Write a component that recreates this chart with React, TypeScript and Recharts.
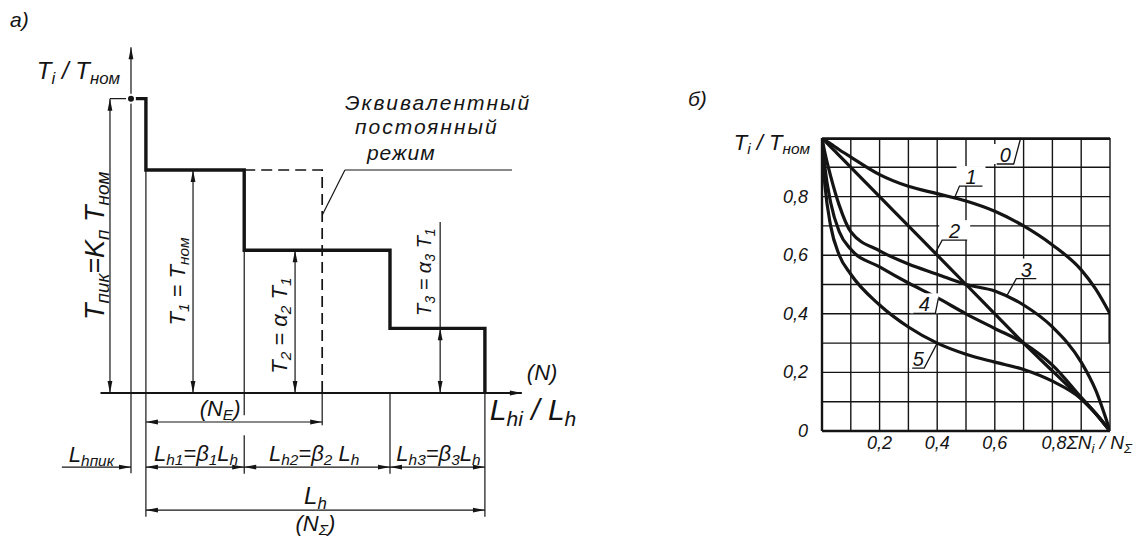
import React from "react";
import {
    LineChart,
    Line,
    XAxis,
    YAxis,
    CartesianGrid,
    ReferenceLine,
    ReferenceDot,
} from "recharts";

const INK = "#141414";
const FONT = "'Liberation Sans', Arial, sans-serif";

// ── Panel а: loading cycle ────────────────────────────────────────────────────
// durations as fractions of Lh (first one is the peak), loads as Ti / Tном
const stageLength = [0.044, 0.29, 0.43, 0.28];
const stageLoad = [1.32, 1.0, 0.64, 0.29];
const equivLength = 0.52; // NE / Lh, run at T1

// ── Panel б: load spectra, Ti/Tном against ΣNi/NΣ ─────────────────────────────
const shareX = [0, 0.01, 0.03, 0.06, 0.1, 0.2, 0.3, 0.4, 0.5, 0.6, 0.7, 0.8, 0.9, 0.95, 1];
const curve1 = [1, 0.993, 0.98, 0.96, 0.935, 0.875, 0.835, 0.81, 0.785, 0.75, 0.7, 0.635, 0.55, 0.485, 0.4];
const curve2 = [1, 0.99, 0.97, 0.94, 0.9, 0.8, 0.7, 0.6, 0.5, 0.4, 0.3, 0.205, 0.11, 0.06, 0];
const curve3 = [1, 0.95, 0.87, 0.77, 0.68, 0.615, 0.57, 0.535, 0.5, 0.478, 0.43, 0.355, 0.235, 0.14, 0];
const curve4 = [1, 0.9, 0.78, 0.68, 0.62, 0.56, 0.505, 0.455, 0.4, 0.35, 0.3, 0.225, 0.115, 0.06, 0];
const curve5 = [0.97, 0.84, 0.7, 0.6, 0.535, 0.43, 0.355, 0.3, 0.262, 0.235, 0.21, 0.17, 0.11, 0.06, 0];
const curve0Share = [0, 1];
const curve0 = [1, 1];
const curve1TailShare = [1, 1];
const curve1Tail = [0.4, 0.3];

const tagNames = ["0", "1", "2", "3", "4", "5"];
const tagShare = [0.69, 0.46, 0.393, 0.64, 0.404, 0.4];

const xTicks = [0.2, 0.4, 0.6, 0.8];
const yTicks = [0, 0.2, 0.4, 0.6, 0.8];
const gridLines = [0.1, 0.2, 0.3, 0.4, 0.5, 0.6, 0.7, 0.8, 0.9, 1];

type P = { x: number; y: number };
const toPoints = (xs: number[], ys: number[]): P[] => xs.map((x, i) => ({ x, y: ys[i] }));

const stageEdge = stageLength.reduce<number[]>((acc, d) => [...acc, acc[acc.length - 1] + d], [0]);
const stepLine: P[] = stageLoad
    .flatMap((y, i) => [
        { x: stageEdge[i], y },
        { x: stageEdge[i + 1], y },
    ])
    .concat({ x: stageEdge[stageEdge.length - 1], y: 0 });
const equivEnd = stageEdge[1] + equivLength;
const equivLine: P[] = [
    { x: stageEdge[2], y: stageLoad[1] },
    { x: equivEnd, y: stageLoad[1] },
    { x: equivEnd, y: 0 },
];

const curves = [curve0, curve1, curve2, curve3, curve4, curve5];
const curveShare = [curve0Share, shareX, shareX, shareX, shareX, shareX];

function valueAt(xs: number[], ys: number[], x: number) {
    for (let i = 1; i < xs.length; i++) {
        if (x <= xs[i]) {
            const t = (x - xs[i - 1]) / (xs[i] - xs[i - 1]);
            return ys[i - 1] + t * (ys[i] - ys[i - 1]);
        }
    }
    return ys[ys.length - 1];
}

// ── Drawing helpers ───────────────────────────────────────────────────────────
type Part = string | [string]; // [s] is set as a subscript

function rich(parts: Part[], size: number) {
    const drop = size * 0.2;
    let low = false;
    return parts.map((p, i) => {
        const sub = Array.isArray(p);
        const dy = sub === low ? 0 : sub ? drop : -drop;
        low = sub;
        return (
            <tspan key={i} dy={dy} fontSize={sub ? size * 0.7 : size}>
                {sub ? p[0] : p}
            </tspan>
        );
    });
}

type TextOpts = { size?: number; anchor?: "start" | "middle" | "end"; rotate?: boolean; spacing?: number };

function txt(x: number, y: number, parts: Part[], o: TextOpts = {}) {
    const { size = 20, anchor = "middle", rotate = false, spacing = 0 } = o;
    return (
        <text
            x={x}
            y={y}
            fill={INK}
            fontFamily={FONT}
            fontStyle="italic"
            fontSize={size}
            textAnchor={anchor}
            letterSpacing={spacing}
            transform={rotate ? `rotate(-90 ${x} ${y})` : undefined}
        >
            {rich(parts, size)}
        </text>
    );
}

// drafting arrowhead with its tip at (tx, ty)
function head(tx: number, ty: number, fx: number, fy: number) {
    const a = Math.atan2(ty - fy, tx - fx);
    const len = 12;
    const half = 2.4;
    const bx = tx - len * Math.cos(a);
    const by = ty - len * Math.sin(a);
    const nx = -Math.sin(a) * half;
    const ny = Math.cos(a) * half;
    return <polygon points={`${tx},${ty} ${bx + nx},${by + ny} ${bx - nx},${by - ny}`} fill={INK} />;
}

type SegOpts = {
    w?: number;
    dash?: string;
    ends?: "both" | "end" | "none";
    label?: (mx: number, my: number) => React.ReactNode;
};

function seg(key: string, a: P, b: P, o: SegOpts = {}) {
    const { w = 1.2, dash, ends = "none", label } = o;
    return (
        <ReferenceLine
            key={key}
            segment={[a, b]}
            ifOverflow="visible"
            shape={(p: any) => (
                <g>
                    <line x1={p.x1} y1={p.y1} x2={p.x2} y2={p.y2} stroke={INK} strokeWidth={w} strokeDasharray={dash} />
                    {ends === "both" && head(p.x1, p.y1, p.x2, p.y2)}
                    {ends !== "none" && head(p.x2, p.y2, p.x1, p.y1)}
                    {label && label((p.x1 + p.x2) / 2, (p.y1 + p.y2) / 2)}
                </g>
            )}
        />
    );
}

function note(key: string, at: P, draw: (cx: number, cy: number) => React.ReactNode) {
    return (
        <ReferenceDot
            key={key}
            x={at.x}
            y={at.y}
            r={1}
            ifOverflow="visible"
            shape={(p: any) => <g>{draw(p.cx, p.cy)}</g>}
        />
    );
}

// ── Panel а ───────────────────────────────────────────────────────────────────
// annotation placement, in the panel's own units (x in Lh, y in Tном)
const A = {
    xDomain: [-0.3864, 1.3835],
    yDomain: [-0.6592, 1.7623],
    axisTop: 1.55,
    axisBottom: -0.36,
    axisLeft: -0.09,
    axisRight: 1.153,
    peakDimX: -0.062,
    loadDimX: [0.183, 0.484, 0.912],
    t3Top: 0.767,
    rowNE: -0.13,
    rowStage: -0.332,
    rowTotal: -0.525,
    peakRowStart: -0.204,
    leader: [
        { x: 0.631, y: 1 },
        { x: 1.124, y: 1 },
        { x: 0.565, y: 0.8 },
    ],
};

function CyclePanel() {
    const [tPeak, t1, t2, t3] = stageLoad;
    const e = stageEdge;
    const stub = 0.03;
    return (
        <LineChart width={600} height={540} margin={{ top: 0, right: 0, bottom: 0, left: 0 }}>
            <XAxis type="number" dataKey="x" domain={A.xDomain} allowDataOverflow hide />
            <YAxis type="number" domain={A.yDomain} allowDataOverflow hide />

            {/* axes */}
            {seg("ay", { x: 0, y: A.axisBottom }, { x: 0, y: A.axisTop }, { ends: "end" })}
            {seg("ax", { x: A.axisLeft, y: 0 }, { x: A.axisRight, y: 0 }, { ends: "end", w: 2.2 })}

            {/* extension lines */}
            {seg("xPeak", { x: A.peakDimX, y: tPeak }, { x: 0, y: tPeak })}
            {seg("x1", { x: e[1], y: t1 }, { x: e[1], y: A.rowTotal - stub })}
            {seg("x2a", { x: e[2], y: t2 }, { x: e[2], y: A.rowNE + stub })}
            {seg("x2b", { x: e[2], y: A.rowNE - 2 * stub }, { x: e[2], y: A.rowStage - stub })}
            {seg("xE", { x: equivEnd, y: 0 }, { x: equivEnd, y: A.rowNE - stub / 2 })}
            {seg("x3", { x: e[3], y: 0 }, { x: e[3], y: A.rowStage - stub })}
            {seg("x4", { x: e[4], y: 0 }, { x: e[4], y: A.rowTotal - stub })}

            {/* load dimensions */}
            {seg("dPeak", { x: A.peakDimX, y: 0 }, { x: A.peakDimX, y: tPeak }, {
                ends: "both",
                label: (mx, my) => txt(mx - 6, my, ["T", ["пик"], "=K", ["п"], " T", ["ном"]], { size: 27, rotate: true }),
            })}
            {seg("d1", { x: A.loadDimX[0], y: 0 }, { x: A.loadDimX[0], y: t1 }, {
                ends: "both",
                label: (mx, my) => txt(mx - 8, my, ["T", ["1"], " = T", ["ном"]], { size: 22, rotate: true }),
            })}
            {seg("d2", { x: A.loadDimX[1], y: 0 }, { x: A.loadDimX[1], y: t2 }, {
                ends: "both",
                label: (mx, my) => txt(mx - 8, my + 4, ["T", ["2"], " = α", ["2"], " T", ["1"]], { size: 22, rotate: true }),
            })}
            {seg("d3", { x: A.loadDimX[2], y: 0 }, { x: A.loadDimX[2], y: t3 }, { ends: "both" })}
            {seg("d3x", { x: A.loadDimX[2], y: t3 }, { x: A.loadDimX[2], y: A.t3Top }, {
                label: (mx, my) => txt(mx - 9, my - 3, ["T", ["3"], " = α", ["3"], " T", ["1"]], { size: 20, rotate: true }),
            })}

            {/* duration dimensions */}
            {seg("dNE", { x: e[1], y: A.rowNE }, { x: equivEnd, y: A.rowNE }, {
                ends: "both",
                label: (mx, my) => txt(mx - 14, my - 6, ["(N", ["E"], ")"], { size: 22 }),
            })}
            {seg("dPk", { x: A.peakRowStart, y: A.rowStage }, { x: 0, y: A.rowStage }, {
                ends: "end",
                label: (mx, my) => txt(mx - 5, my - 5, ["L", ["hпик"]], { size: 22 }),
            })}
            {[1, 2, 3].map((i) =>
                seg(`dL${i}`, { x: e[i], y: A.rowStage }, { x: e[i + 1], y: A.rowStage }, {
                    ends: "both",
                    label: (mx, my) =>
                        txt(mx + (i === 2 ? -3 : 1), my - 6, ["L", [`h${i}`], `=β`, [`${i}`], i === 2 ? " L" : "L", ["h"]], { size: 22 }),
                })
            )}
            {seg("dLh", { x: e[1], y: A.rowTotal }, { x: e[4], y: A.rowTotal }, {
                ends: "both",
                label: (mx, my) => (
                    <>
                        {txt(mx, my - 6, ["L", ["h"]], { size: 24 })}
                        {txt(mx, my + 21, ["(N", ["Σ"], ")"], { size: 22 })}
                    </>
                ),
            })}

            {/* equivalent constant mode */}
            <Line data={equivLine} dataKey="y" type="linear" stroke={INK} strokeWidth={1.7} strokeDasharray="11 6" dot={false} isAnimationActive={false} />
            {seg("lead1", A.leader[0], A.leader[1])}
            {seg("lead2", A.leader[0], A.leader[2])}
            {note("eqText", A.leader[0], (cx, cy) => (
                <>
                    {txt(cx, cy - 60, ["Эквивалентный"], { size: 21, anchor: "start", spacing: 2 })}
                    {txt(cx + 10, cy - 36, ["постоянный"], { size: 21, anchor: "start", spacing: 2 })}
                    {txt(cx + 22, cy - 10, ["режим"], { size: 21, anchor: "start", spacing: 1 })}
                </>
            ))}

            {/* loading steps */}
            <Line data={stepLine} dataKey="y" type="linear" stroke={INK} strokeWidth={3.4} dot={false} isAnimationActive={false} />

            {note("yTitle", { x: 0, y: A.axisTop }, (cx, cy) => (
                <>
                    {txt(cx - 121, cy - 20, ["а)"], { size: 21, anchor: "start" })}
                    {txt(cx - 11, cy + 32, ["T", ["i"], " / T", ["ном"]], { size: 24, anchor: "end" })}
                </>
            ))}
            {note("xTitle", { x: A.axisRight, y: 0 }, (cx, cy) => (
                <>
                    {txt(cx + 5, cy - 13, ["(N)"], { size: 22, anchor: "start" })}
                    {txt(cx - 32, cy + 27, ["L", ["hi"], " / L", ["h"]], { size: 30, anchor: "start" })}
                </>
            ))}
        </LineChart>
    );
}

// ── Panel б ───────────────────────────────────────────────────────────────────
// tag leaders: slash to (dx, dy) in px from the curve, then an underline of signed length
const tagLeader = [
    { dx: -7, dy: 26, len: -17 },
    { dx: 5, dy: -12, len: 23 },
    { dx: 7, dy: -13, len: 25 },
    { dx: 10, dy: -18, len: 20 },
    { dx: -3, dy: 15, len: -22 },
    { dx: -13, dy: 25, len: -12 },
];

const fmt = (v: number) => (v === 0 ? "0" : v.toFixed(1).replace(".", ","));

function shareTick(p: any) {
    const v = p.payload.value;
    const last = v === xTicks[xTicks.length - 1];
    return (
        <text
            x={last ? p.x - 11 : p.x}
            y={p.y + 14}
            textAnchor={last ? "start" : "middle"}
            fill={INK}
            fontFamily={FONT}
            fontStyle="italic"
            fontSize={18}
        >
            {fmt(v)}
            {last && rich(["ΣN", ["i"], " / N", ["Σ"]], 19)}
        </text>
    );
}

function loadTick(p: any) {
    return (
        <text x={p.x} y={p.y + 6} textAnchor="end" fill={INK} fontFamily={FONT} fontStyle="italic" fontSize={18}>
            {fmt(p.payload.value)}
        </text>
    );
}

function SpectrumPanel() {
    return (
        <LineChart width={459} height={400} margin={{ top: 68, right: 29, left: 102, bottom: 9 }}>
            <CartesianGrid horizontalValues={gridLines} verticalValues={gridLines} stroke={INK} strokeWidth={1.4} />
            <XAxis
                type="number"
                dataKey="x"
                domain={[0, 1]}
                ticks={xTicks}
                interval={0}
                tick={shareTick}
                tickLine={false}
                tickSize={0}
                tickMargin={4}
                height={30}
                axisLine={{ stroke: INK, strokeWidth: 2.4 }}
                allowDataOverflow
            />
            <YAxis
                type="number"
                domain={[0, 1]}
                ticks={yTicks}
                interval={0}
                tick={loadTick}
                tickLine={false}
                tickSize={0}
                tickMargin={14}
                width={40}
                axisLine={{ stroke: INK, strokeWidth: 2.4 }}
                allowDataOverflow
            />
            {curves.map((ys, i) => (
                <Line
                    key={`c${i}`}
                    data={toPoints(curveShare[i], ys)}
                    dataKey="y"
                    type={i === 0 ? "linear" : "monotone"}
                    stroke={INK}
                    strokeWidth={i === 0 ? 4 : 3.2}
                    dot={false}
                    isAnimationActive={false}
                />
            ))}
            <Line data={toPoints(curve1TailShare, curve1Tail)} dataKey="y" type="linear" stroke={INK} strokeWidth={3.2} dot={false} isAnimationActive={false} />

            {tagNames.map((name, i) => {
                const x = tagShare[i];
                const { dx, dy, len } = tagLeader[i];
                return note(`tag${i}`, { x, y: valueAt(curveShare[i], curves[i], x) }, (cx, cy) => {
                    const ex = cx + dx;
                    const ey = cy + dy;
                    const ux = ex + len;
                    return (
                        <>
                            <rect x={Math.min(ex, ux) - 3} y={ey - 20} width={Math.abs(len) + 6} height={20} fill="#fff" />
                            <polyline points={`${cx},${cy} ${ex},${ey} ${ux},${ey}`} fill="none" stroke={INK} strokeWidth={1.3} />
                            {txt((ex + ux) / 2, ey - 2, [name], { size: 20 })}
                        </>
                    );
                });
            })}

            {note("titles", { x: 0, y: 1 }, (cx, cy) => (
                <>
                    {txt(cx - 134, cy - 32, ["б)"], { size: 21, anchor: "start" })}
                    {txt(cx - 12, cy + 12, ["T", ["i"], " / T", ["ном"]], { size: 22, anchor: "end" })}
                </>
            ))}
        </LineChart>
    );
}

export default function App() {
    return (
        <div style={{ position: "absolute", left: 0, top: 0, width: 1139, height: 540, background: "#fff" }}>
            <div style={{ position: "absolute", left: 0, top: 0 }}>
                <CyclePanel />
            </div>
            <div style={{ position: "absolute", left: 680, top: 70 }}>
                <SpectrumPanel />
            </div>
        </div>
    );
}
